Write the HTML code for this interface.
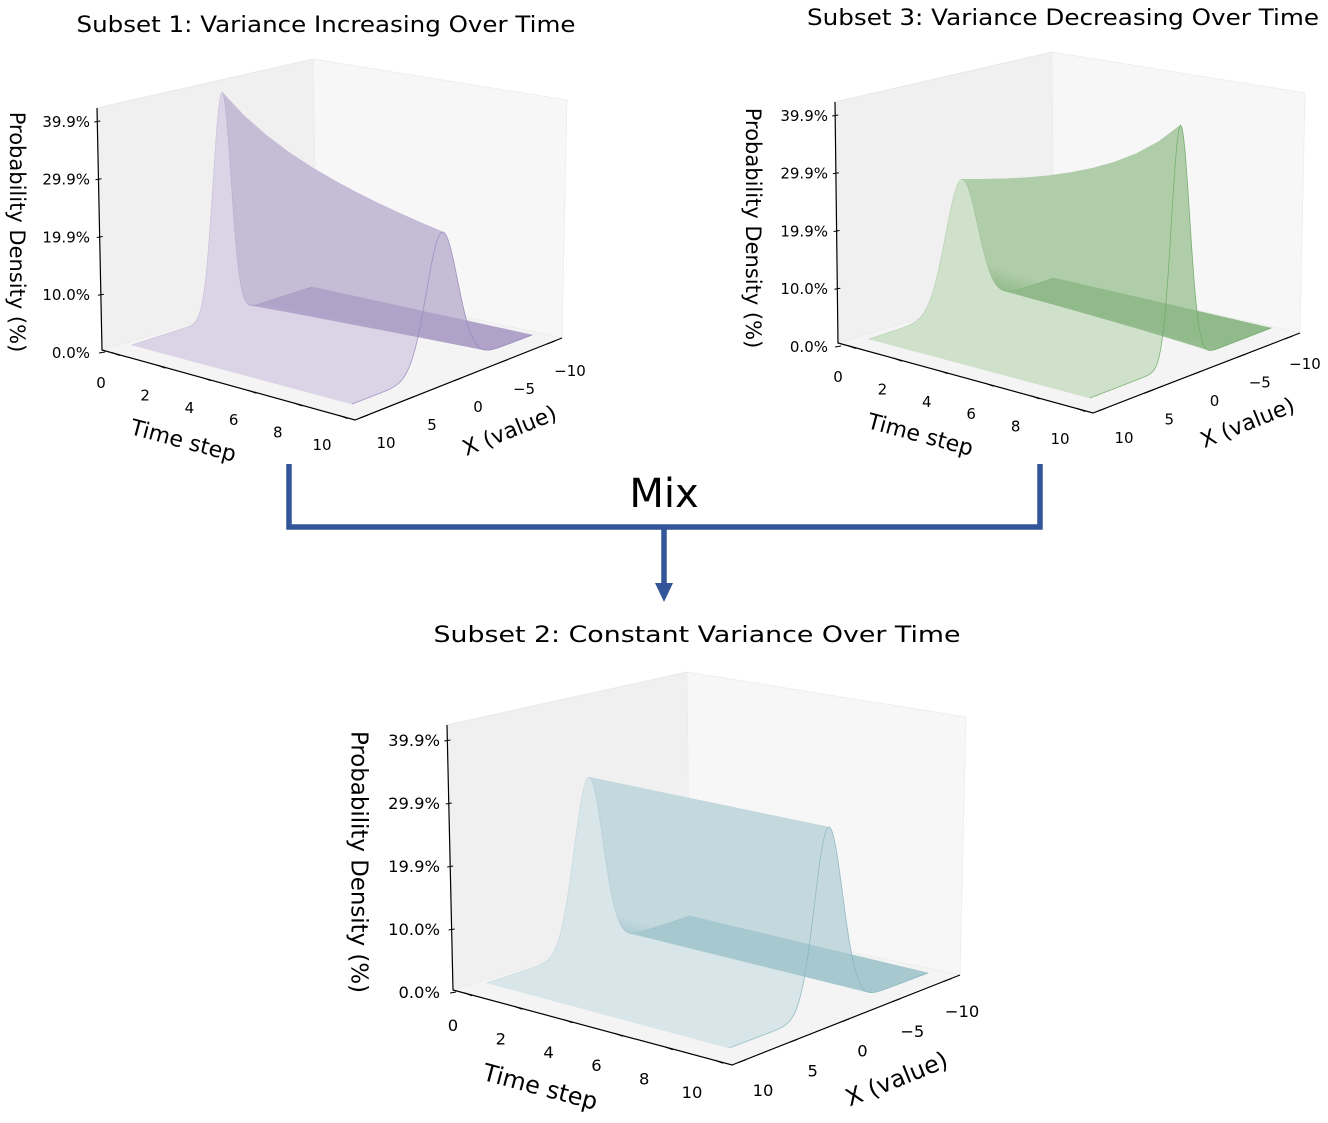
<!DOCTYPE html>
<html><head><meta charset="utf-8">
<style>
html,body{margin:0;padding:0;background:#fff;}
svg{display:block;font-family:"DejaVu Sans","Liberation Sans",sans-serif;}
</style></head>
<body>
<svg id="fig" width="1328" height="1123" viewBox="0 0 1328 1123" xmlns="http://www.w3.org/2000/svg">
  <text x="326" y="32" font-size="22" text-anchor="middle" textLength="499" lengthAdjust="spacingAndGlyphs">Subset 1: Variance Increasing Over Time</text>
  <text x="1063" y="25" font-size="22" text-anchor="middle" textLength="512" lengthAdjust="spacingAndGlyphs">Subset 3: Variance Decreasing Over Time</text>
  <text x="697" y="642" font-size="22" text-anchor="middle" textLength="527" lengthAdjust="spacingAndGlyphs">Subset 2: Constant Variance Over Time</text>
  <text x="664" y="507" font-size="40" text-anchor="middle">Mix</text>
  <path d="M289,464 L289,527 L1040,527 L1040,464 M664,527 L664,586" fill="none" stroke="#34559a" stroke-width="5.5"/>
  <polygon points="655,583 673,583 664,602" fill="#34559a"/>
  <g id="charts"></g>
</svg>
<script>
// ---- data ----
const tSteps = [0,1,2,3,4,5,6,7,8,9,10];
const sigmaIncreasing = [1.0,1.095,1.183,1.265,1.342,1.414,1.483,1.549,1.612,1.673,1.732];
const sigmaDecreasing = [1.732,1.673,1.612,1.549,1.483,1.414,1.342,1.265,1.183,1.095,1.0];
const sigmaConstant = [1.414,1.414,1.414,1.414,1.414,1.414,1.414,1.414,1.414,1.414,1.414];
const timeTicks = [0,2,4,6,8,10];
const xTicks = [10,5,0,-5,-10];
const xTickLabels = ["10","5","0","\u22125","\u221210"];
const zTicks = [0.0,0.0998,0.1995,0.2993,0.399];
const zTickLabels = ["0.0%","10.0%","19.9%","29.9%","39.9%"];

const NS = "http://www.w3.org/2000/svg";
const root = document.getElementById('charts');
function mk(tag, attrs, parent){
  const e = document.createElementNS(NS, tag);
  for (const k in attrs) e.setAttribute(k, attrs[k]);
  (parent||root).appendChild(e);
  return e;
}
function lerp(a,b,f){return [a[0]+(b[0]-a[0])*f, a[1]+(b[1]-a[1])*f];}
function pdf(x,s){return Math.exp(-x*x/(2*s*s))/(s*Math.sqrt(2*Math.PI));}

const charts = [
 {name:'subset1', sig:sigmaIncreasing, light:[218,212,230], mid:[197,188,214], dark:[176,163,201], stroke:'#9686bd', fs:1,
  box:{lf:[102,350],lt:[97,108],bt:[313,59],bf:[317,285],rt:[567,100],rf:[562,338],ff:[355,420]},
  A:[132,345],B:[352,404],C:[532,335],D:[312,287],k0:561,k1:596,
  tl0:[101,388],tl1:[322,450],xl10:[386,448],xlm10:[570,376],zlx:90,zly0:358,zly1:127,
  zt:[16,232],tt:[183,442,15],xt:[510,432,-22]},
 {name:'subset3', sig:sigmaDecreasing, light:[207,225,203], mid:[176,205,170], dark:[145,186,139], stroke:'#6aa862', fs:1,
  box:{lf:[838,343],lt:[835,102],bt:[1052,52],bf:[1054,278],rt:[1305,93],rf:[1300,333],ff:[1093,413]},
  A:[869,339],B:[1090,398],C:[1271,328],D:[1054,278],k0:561,k1:596,
  tl0:[838,382],tl1:[1060,444],xl10:[1124,443],xlm10:[1305,369],zlx:828,zly0:352,zly1:121,
  zt:[752,228],tt:[920,436,15],xt:[1248,424,-22]},
 {name:'subset2', sig:sigmaConstant, light:[216,230,233], mid:[195,217,222], dark:[167,200,207], stroke:'#86b3bd', fs:1.09,
  box:{lf:[453,990],lt:[447,725],bt:[687,672],bf:[690,918],rt:[966,717],rf:[960,975],ff:[732,1065]},
  A:[487,983],B:[729,1048],C:[928,973],D:[690,916],k0:611,k1:650,
  tl0:[453,1031],tl1:[692,1098],xl10:[763,1096],xlm10:[962,1017],zlx:440,zly0:998,zly1:746,
  zt:[358,862],tt:[540,1088,15],xt:[897,1080,-22]}
];

charts.forEach(c=>{
  const g = mk('g',{});
  
  
  const b = c.box;
  const pts = a=>a.map(p=>p[0].toFixed(2)+','+p[1].toFixed(2)).join(' ');
  const lp = mk('polygon',{points:pts([b.lf,b.lt,b.bt,b.bf]),fill:'#f0f0f0',stroke:'#e6e6e6','stroke-width':0.8},g);
  
  
  const rp = mk('polygon',{points:pts([b.bf,b.bt,b.rt,b.rf]),fill:'#f7f7f7',stroke:'#ececec','stroke-width':0.8},g);
  
  
  const fp = mk('polygon',{points:pts([b.lf,b.bf,b.rf,b.ff]),fill:'#f4f4f4',stroke:'#ececec','stroke-width':0.8},g);
  
  

  function P(t,x,z){
    const u=t/10, v=(10-x)/20;
    const p=[c.A[0]*(1-u)*(1-v)+c.B[0]*u*(1-v)+c.C[0]*u*v+c.D[0]*(1-u)*v,
             c.A[1]*(1-u)*(1-v)+c.B[1]*u*(1-v)+c.C[1]*u*v+c.D[1]*(1-u)*v];
    const k=c.k0+(c.k1-c.k0)*u;
    return [p[0], p[1]-z*k];
  }
  const NX=120;
  const sg = mk('g',{},g);
  
  
  for(let i=0;i<NX;i++){
    const x0=10-20*i/NX, x1=10-20*(i+1)/NX;
    const fw=[], bk=[];
    let zsum=0;
    tSteps.forEach((t,j)=>{
      const s=c.sig[j];
      fw.push(P(t,x0,pdf(x0,s)));
      bk.unshift(P(t,x1,pdf(x1,s)));
      zsum += pdf((x0+x1)/2,s);
    });
    const zavg = zsum/tSteps.length;
    const xm=(x0+x1)/2;
    let col;
    if (xm>=0) col=c.light;
    else {
      const f=Math.min(1, zavg/0.04);
      col=[0,1,2].map(q=>Math.round(c.dark[q]*(1-f)+c.mid[q]*f));
    }
    const cs='rgb('+col.join(',')+')';
    const poly = mk('polygon',{points:pts(fw.concat(bk)),fill:cs,stroke:cs,'stroke-width':0.6},sg);
    
    
  }
  [0,10].forEach((t,jj)=>{
    const j = tSteps.indexOf(t);
    const arr=[];
    for(let i=0;i<=160;i++){const x=10-20*i/160; arr.push(P(t,x,pdf(x,c.sig[j])));}
    const pl = mk('polyline',{points:pts(arr),fill:'none',stroke:c.stroke,'stroke-width':0.8,'stroke-opacity':jj?0.8:0.2},g);
    
    
  });
  const ax = mk('path',{d:'M'+b.lt[0]+','+b.lt[1]+' L'+b.lf[0]+','+b.lf[1]+' L'+b.ff[0]+','+b.ff[1]+' L'+b.rf[0]+','+b.rf[1],fill:'none',stroke:'#000','stroke-width':1.2},g);
  
  
  const tfs = 15*c.fs, afs = 21*c.fs;
  timeTicks.forEach(t=>{
    const f=0.05+0.9*t/10;
    const p=lerp(b.lf,b.ff,f);
    const tk=mk('line',{x1:p[0]-3,y1:p[1]-1,x2:p[0]+5,y2:p[1]+2,stroke:'#000','stroke-width':1},g);
    
    
    const lpos=lerp(c.tl0,c.tl1,t/10);
    const tx=mk('text',{x:lpos[0],y:lpos[1],'font-size':tfs,'text-anchor':'middle'},g);
    tx.textContent=String(t);
    
    
  });
  xTicks.forEach((x,i)=>{
    const f=0.05+0.9*(10-x)/20;
    const p=lerp(b.ff,b.rf,f);
    const tk=mk('line',{x1:p[0]-5,y1:p[1]+2,x2:p[0]+3,y2:p[1]-1,stroke:'#000','stroke-width':1},g);
    
    
    const lpos=lerp(c.xl10,c.xlm10,(10-x)/20);
    const tx=mk('text',{x:lpos[0],y:lpos[1],'font-size':tfs,'text-anchor':'middle'},g);
    tx.textContent=xTickLabels[i];
    
    
  });
  zTicks.forEach((z,i)=>{
    const f=z/0.399;
    const y=c.zly0+(c.zly1-c.zly0)*f;
    const ax0=lerp(b.lf,b.lt,(b.lf[1]-(y-5))/(b.lf[1]-b.lt[1]));
    const tk=mk('line',{x1:ax0[0]-3,y1:y-5,x2:ax0[0]+3,y2:y-6,stroke:'#000','stroke-width':1},g);
    
    
    const tx=mk('text',{x:c.zlx,y:y,'font-size':tfs,'text-anchor':'end'},g);
    tx.textContent=zTickLabels[i];
    
    
  });
  const zt=mk('text',{x:0,y:0,'font-size':afs,'text-anchor':'middle','dominant-baseline':'middle',transform:'translate('+c.zt[0]+','+c.zt[1]+') rotate(90)'},g);
  zt.textContent='Probability Density (%)';
  
  
  const tt=mk('text',{x:0,y:0,'font-size':afs+1,'text-anchor':'middle','dominant-baseline':'middle',transform:'translate('+c.tt[0]+','+c.tt[1]+') rotate('+c.tt[2]+')'},g);
  tt.textContent='Time step';
  
  
  const xt=mk('text',{x:0,y:0,'font-size':afs+1,'text-anchor':'middle','dominant-baseline':'middle',transform:'translate('+c.xt[0]+','+c.xt[1]+') rotate('+c.xt[2]+')'},g);
  xt.textContent='X (value)';
  
  
});
</script>
</body></html>
